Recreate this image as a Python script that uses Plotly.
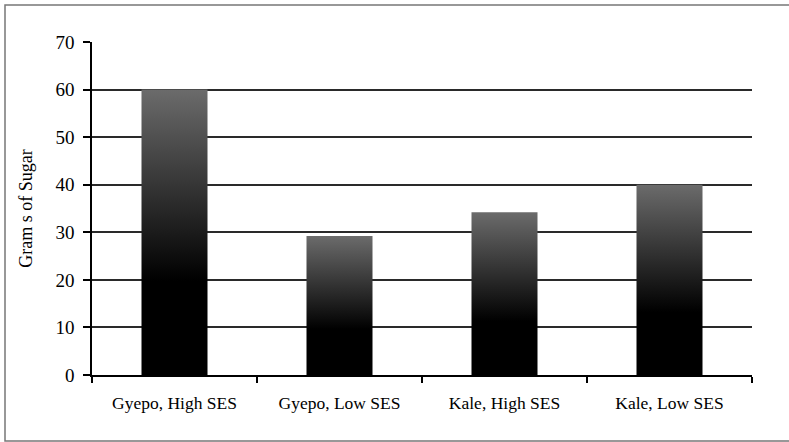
import plotly.graph_objects as go

# Sugar intake by group
categories = ["Gyepo, High SES", "Gyepo, Low SES", "Kale, High SES", "Kale, Low SES"]
sugar_grams = [60, 29.2, 34.2, 40]
y_ticks = [0, 10, 20, 30, 40, 50, 60, 70]

BAR_WIDTH = 0.4
FONT = "Liberation Serif"

# vertical gradient: solid black at the base fading to mid grey at the top
gradient = [[0.0, "#000000"], [0.33, "#000000"], [1.0, "#6b6b6b"]]

fig = go.Figure()
for i, v in enumerate(sugar_grams):
    x0, x1 = i - BAR_WIDTH / 2, i + BAR_WIDTH / 2
    fig.add_trace(go.Scatter(
        x=[x0, x1, x1, x0, x0],
        y=[0, 0, v, v, 0],
        mode="lines",
        line=dict(width=0),
        fill="toself",
        fillgradient=dict(type="vertical", colorscale=gradient),
        hoverinfo="skip",
        showlegend=False,
    ))

fig.update_layout(
    width=789, height=442,
    margin=dict(l=92, r=37, t=42, b=67),
    paper_bgcolor="white", plot_bgcolor="white",
    font=dict(family=FONT, color="black"),
    showlegend=False,
    xaxis=dict(
        range=[-0.5, 3.5],
        tickvals=list(range(len(categories))),
        ticktext=categories,
        ticks="",
        tickfont=dict(size=17.5, family=FONT),
        ticklabelstandoff=11,
        showgrid=False, zeroline=False,
        showline=True, linecolor="black", linewidth=1.5,
        minor=dict(ticks="outside", ticklen=6, tickcolor="black", tickwidth=1.5,
                   tick0=-0.5, dtick=1, showgrid=False),
    ),
    yaxis=dict(
        range=[0, 70],
        tickvals=y_ticks,
        ticks="outside", ticklen=7, tickcolor="black", tickwidth=1.5,
        tickfont=dict(size=19, family=FONT),
        ticklabelstandoff=5,
        showgrid=True, gridcolor="#2a2a2a", gridwidth=1.5,
        zeroline=False,
        showline=True, linecolor="black", linewidth=1.5,
        title=dict(text="Gram s of Sugar", font=dict(size=18, family=FONT), standoff=18),
    ),
    shapes=[dict(
        type="rect", xref="paper", yref="paper",
        x0=(5 - 92) / 660, x1=(789 - 92) / 660 + 0.01,
        y0=(375 - 441) / 333, y1=(375 - 5) / 333,
        line=dict(color="#777777", width=1.5),
        fillcolor="rgba(0,0,0,0)", layer="below",
    )],
)

fig.write_html("out.html")
